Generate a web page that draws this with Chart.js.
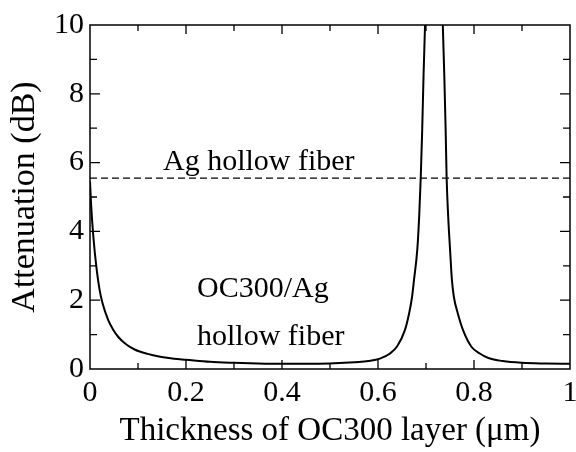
<!DOCTYPE html>
<html>
<head>
<meta charset="utf-8">
<script src="https://cdn.jsdelivr.net/npm/chart.js@4.4.1/dist/chart.umd.min.js"></script>
<style>
  html, body { margin: 0; padding: 0; background: #fff; }
  #wrap { width: 576px; height: 452px; }
</style>
</head>
<body>
<div id="wrap"><canvas id="chart"></canvas></div>
<script>
// OC300/Ag hollow fiber attenuation vs OC300 thickness
const thickness = [
    0, 0.002, 0.007, 0.014, 0.02, 0.026, 0.038, 0.048, 0.059, 0.075, 0.094,
    0.12, 0.149, 0.175, 0.2, 0.25, 0.3, 0.35, 0.4, 0.45, 0.5, 0.53, 0.56, 0.58,
    0.604, 0.625, 0.64, 0.656, 0.665, 0.671, 0.675, 0.682, 0.686, 0.689, 0.692,
    0.695, 0.698, 0.704, 0.716,
    0.728, 0.735, 0.738, 0.741, 0.743, 0.746, 0.75, 0.754, 0.758, 0.766, 0.778,
    0.795, 0.812, 0.83, 0.86, 0.9, 0.95, 1.0
];
const attenuation = [
    5.45, 4.85, 3.84, 2.88, 2.3, 1.92, 1.42, 1.15, 0.93, 0.72, 0.56,
    0.44, 0.35, 0.3, 0.27, 0.21, 0.18, 0.16, 0.15, 0.15, 0.16, 0.18, 0.2, 0.23,
    0.3, 0.45, 0.66, 1.13, 1.63, 2.1, 2.59, 3.5, 4.5, 5.55, 6.9,
    8.6, 10.0, 14.0, 25.0,
    14.0, 10.0, 8.6, 6.9, 5.55, 4.5, 3.5, 2.59, 2.1, 1.63, 1.1,
    0.64, 0.45, 0.32, 0.23, 0.18, 0.16, 0.15
];

// Ag hollow fiber reference level
const agLevelX = [0, 1];
const agLevelY = [5.55, 5.55];

const xTickLabels = ['0', '0.2', '0.4', '0.6', '0.8', '1'];
const yTickLabels = ['0', '2', '4', '6', '8', '10'];

const notes = [
    { text: 'Ag hollow fiber', x: 0.152, y: 5.78 },
    { text: 'OC300/Ag', x: 0.223, y: 2.09 },
    { text: 'hollow fiber', x: 0.223, y: 0.7 }
];

const serif = "'Liberation Serif', 'Times New Roman', serif";

const frame = {
    id: 'frame',
    afterDraw(chart) {
        const c = chart.ctx;
        const a = chart.chartArea;
        const xs = chart.scales.x, ys = chart.scales.y;
        c.save();
        c.strokeStyle = '#000';
        c.lineWidth = 1.5;
        c.strokeRect(a.left, a.top, a.right - a.left, a.bottom - a.top);
        c.lineWidth = 1.3;
        c.beginPath();
        for (let i = 1; i < 10; i++) {
            const len = i % 2 === 0 ? 9 : 6;
            const px = xs.getPixelForValue(i / 10);
            c.moveTo(px, a.bottom); c.lineTo(px, a.bottom - len);
            c.moveTo(px, a.top); c.lineTo(px, a.top + len);
            const py = ys.getPixelForValue(i);
            c.moveTo(a.left, py); c.lineTo(a.left + len + 1, py);
            c.moveTo(a.right, py); c.lineTo(a.right - len - 1, py);
        }
        c.stroke();
        c.fillStyle = '#000';
        c.font = '30px ' + serif;
        c.textAlign = 'left';
        c.textBaseline = 'alphabetic';
        notes.forEach(n => {
            c.fillText(n.text, xs.getPixelForValue(n.x), ys.getPixelForValue(n.y));
        });
        c.restore();
    }
};

new Chart(document.getElementById('chart'), {
    type: 'scatter',
    data: {
        datasets: [{
            data: thickness.map((t, i) => ({ x: t, y: attenuation[i] })),
            showLine: true,
            borderColor: '#000',
            borderWidth: 2,
            pointRadius: 0,
            cubicInterpolationMode: 'monotone'
        }, {
            data: agLevelX.map((t, i) => ({ x: t, y: agLevelY[i] })),
            showLine: true,
            borderColor: '#000',
            borderWidth: 1.2,
            borderDash: [7, 4],
            pointRadius: 0
        }]
    },
    options: {
        responsive: true,
        maintainAspectRatio: false,
        animation: false,
        events: [],
        layout: { padding: { top: 25, right: 6, left: 0, bottom: 0 } },
        plugins: { legend: { display: false }, tooltip: { enabled: false } },
        scales: {
            x: {
                type: 'linear',
                min: 0, max: 1,
                afterFit(s) { s.height = 83; s.paddingLeft = 0; s.paddingRight = 0; },
                grid: { display: false, drawTicks: false },
                border: { display: false },
                ticks: {
                    stepSize: 0.2,
                    padding: 6,
                    color: '#000',
                    maxRotation: 0,
                    font: { family: serif, size: 30 },
                    callback: (v) => xTickLabels[Math.round(v * 5)]
                },
                title: {
                    display: true,
                    text: 'Thickness of OC300 layer (\u03bcm)',
                    color: '#000',
                    font: { family: serif, size: 33 },
                    padding: { top: 0, bottom: 1 }
                }
            },
            y: {
                type: 'linear',
                min: 0, max: 10,
                afterFit(s) { s.width = 90; s.paddingTop = 0; s.paddingBottom = 0; },
                grid: { display: false, drawTicks: false },
                border: { display: false },
                ticks: {
                    stepSize: 2,
                    padding: 6,
                    color: '#000',
                    font: { family: serif, size: 30 },
                    callback: (v) => yTickLabels[Math.round(v / 2)]
                },
                title: {
                    display: true,
                    text: 'Attenuation (dB)',
                    color: '#000',
                    font: { family: serif, size: 34 },
                    padding: { top: 5, bottom: 0 }
                }
            }
        }
    },
    plugins: [frame]
});
</script>
</body>
</html>
